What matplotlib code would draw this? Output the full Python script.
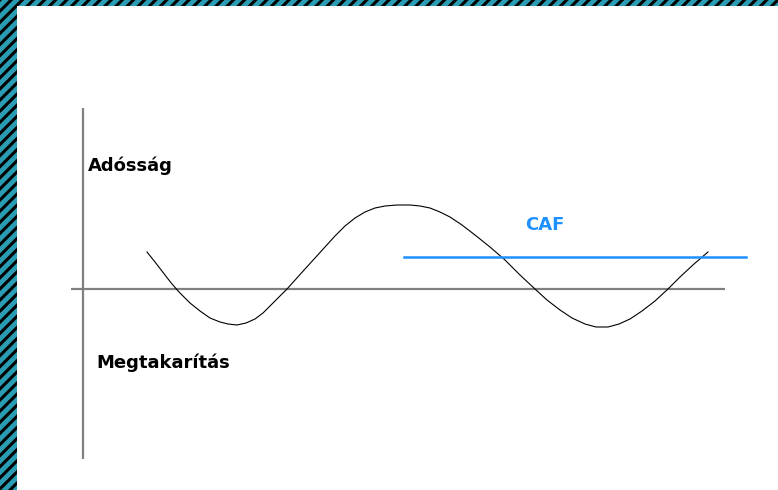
import matplotlib.pyplot as plt
from matplotlib.patches import Rectangle

plt.rcParams['hatch.linewidth'] = 2.2

# curve (x, y in picture units, y grows downward)
curve_x = [147, 155, 165, 172, 180, 190, 200, 210, 220, 228, 237, 246, 255, 263, 270,
           278, 287, 296, 305, 315, 325, 335, 345, 355, 365, 375, 385, 397, 410, 420,
           430, 440, 450, 462, 475, 490, 505, 520, 535, 547, 560, 572, 585, 596, 608,
           619, 630, 642, 655, 668, 680, 694, 708]
curve_y = [252, 262, 275, 284, 293, 303, 311, 318, 322, 324, 325, 323, 319, 313, 306,
           298, 289, 279, 269, 258, 247, 236, 226, 218, 212, 208, 206, 205, 205, 206,
           208, 212, 217, 225, 235, 247, 260, 275, 289, 300, 310, 318, 324, 327, 327,
           324, 319, 311, 301, 289, 277, 264, 252]

# axes lines and CAF level
x_axis = ([71, 725], [289, 289])
y_axis = ([83, 83], [108, 459])
caf_x = [404, 746]
caf_y = [257, 257]

labels = {"Adósság": (88, 166), "Megtakarítás": (96, 363)}
caf_label = ("CAF", 525, 225)

fig = plt.figure(figsize=(7.78, 4.90), dpi=100)
ax = fig.add_axes([0, 0, 1, 1])
ax.set_xlim(0, 778)
ax.set_ylim(490, 0)
ax.axis('off')

# hatched border (left and top)
border = dict(facecolor='#2a9db5', edgecolor='black', hatch='///', linewidth=0,
              transform=fig.transFigure, figure=fig)
fig.patches.append(Rectangle((0, 0), 17 / 778, 1, **border))
fig.patches.append(Rectangle((0, 1 - 6 / 490), 1, 6 / 490, **border))

ax.plot(*x_axis, color='#808080', lw=1.6, solid_capstyle='butt')
ax.plot(*y_axis, color='#808080', lw=1.6, solid_capstyle='butt')
ax.plot(curve_x, curve_y, color='black', lw=0.8)
ax.plot(caf_x, caf_y, color='#1e90ff', lw=1.8)

for txt, (x, y) in labels.items():
    ax.text(x, y, txt, fontsize=13, fontweight='bold', va='center', ha='left',
            family='DejaVu Sans')
ax.text(caf_label[1], caf_label[2], caf_label[0], fontsize=13, fontweight='bold',
        color='#1e90ff', va='center', ha='left')

plt.savefig("out.png", dpi=100)
